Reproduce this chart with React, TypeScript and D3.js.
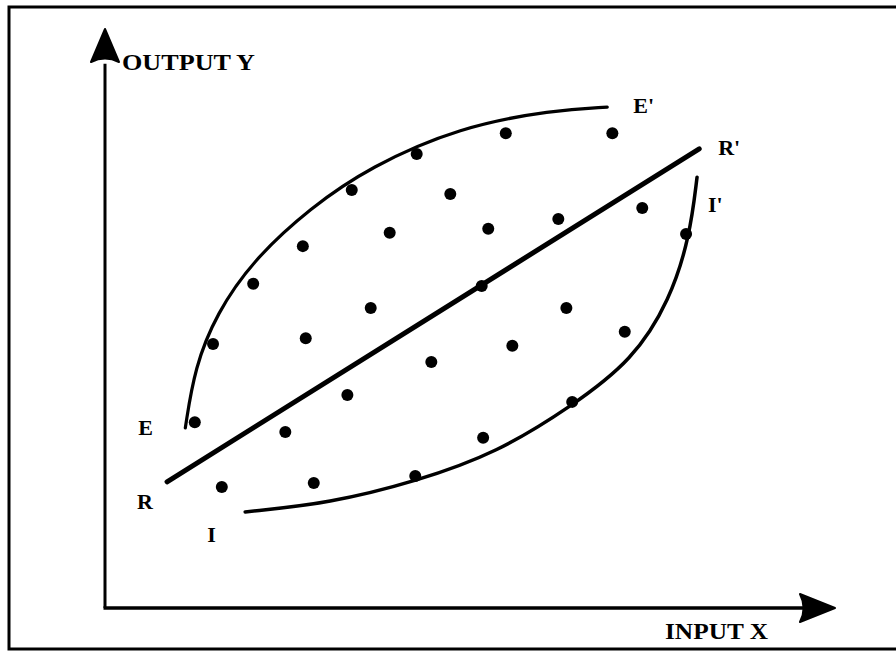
import React, { useEffect, useRef } from 'react';
import * as d3 from 'd3';

const WIDTH = 896;
const HEIGHT = 651;

// abstract units: input X 0..100, output Y 0..100 (100 = arrow tips)
const dotX = [12.3, 14.8, 20.3, 27.1, 33.8, 42.7, 54.9, 69.5, 47.3, 39.0, 52.5, 62.1, 73.6, 79.6,
    51.6, 36.4, 27.5, 63.2, 71.2, 55.8, 44.7, 33.2, 24.7, 16.0, 28.6, 42.5, 51.8, 64.0];
const dotY = [32.1, 45.6, 56.0, 62.5, 72.2, 78.4, 82.0, 82.0, 71.5, 64.8, 65.5, 67.2, 69.1, 64.6,
    55.6, 51.8, 46.6, 51.8, 47.7, 45.3, 42.5, 36.8, 30.4, 20.9, 21.6, 22.8, 29.4, 35.6];

// efficient boundary E -> E'
const efficientX = [11.0, 12.3, 15.3, 20.3, 28.1, 36.3, 48.6, 61.4, 68.8];
const efficientY = [31.1, 41.6, 50.9, 60.1, 69.1, 76.2, 83.1, 86.0, 86.5];

// regression line R -> R'
const regressionX = [8.5, 81.4];
const regressionY = [21.8, 79.3];

// inefficient boundary I -> I'
const inefficientX = [19.2, 30.8, 42.7, 53.7, 64.0, 72.3, 77.4, 80.1, 81.1];
const inefficientY = [16.6, 18.1, 21.9, 26.8, 34.9, 42.8, 53.2, 64.1, 74.4];

const FONT = '"Liberation Serif", "DejaVu Serif", serif';

const App = () => {
    const svgRef = useRef<SVGSVGElement>(null);

    useEffect(() => {
        document.body.style.margin = '0';
        const svg = d3.select(svgRef.current);
        svg.selectAll('*').remove();

        const x = d3.scaleLinear().domain([0, 100]).range([105, 835]);
        const y = d3.scaleLinear().domain([0, 100]).range([608, 29]);

        // frame (right side runs off the page)
        svg.append('rect')
            .attr('x', 9).attr('y', 7)
            .attr('width', 1000).attr('height', 642)
            .attr('fill', 'white')
            .attr('stroke', '#000').attr('stroke-width', 3);

        // axes
        const g = svg.append('g');
        g.append('line')
            .attr('x1', x(0)).attr('y1', y(0))
            .attr('x2', x(0)).attr('y2', y(94))
            .attr('stroke', '#000').attr('stroke-width', 3);
        g.append('line')
            .attr('x1', x(0) - 1.5).attr('y1', y(0))
            .attr('x2', x(96)).attr('y2', y(0))
            .attr('stroke', '#000').attr('stroke-width', 3.5);

        g.append('path')
            .attr('d', `M${x(0)},${y(100)} L${x(0) + 14},${y(94.3)} Q${x(0)},${y(95.5)} ${x(0) - 14},${y(94.3)} Z`)
            .attr('fill', '#000').attr('stroke', '#000').attr('stroke-width', 2).attr('stroke-linejoin', 'round');
        g.append('path')
            .attr('d', `M${x(100)},${y(0)} L${x(95.2)},${y(0) - 14} Q${x(96.2)},${y(0)} ${x(95.2)},${y(0) + 14} Z`)
            .attr('fill', '#000').attr('stroke', '#000').attr('stroke-width', 2).attr('stroke-linejoin', 'round');

        g.append('text')
            .attr('x', x(0) + 17).attr('y', y(93))
            .attr('font-family', FONT).attr('font-weight', 'bold').attr('font-size', 24)
            .attr('textLength', 133).attr('lengthAdjust', 'spacingAndGlyphs')
            .text('OUTPUT Y');
        g.append('text')
            .attr('x', 665).attr('y', y(0) + 31)
            .attr('font-family', FONT).attr('font-weight', 'bold').attr('font-size', 24)
            .attr('textLength', 103).attr('lengthAdjust', 'spacingAndGlyphs')
            .text('INPUT X');

        const toPoints = (xs: number[], ys: number[]) => xs.map((v, i) => [v, ys[i]] as [number, number]);
        const curve = d3.line<[number, number]>()
            .x(d => x(d[0]))
            .y(d => y(d[1]))
            .curve(d3.curveBasis);

        const efficient = toPoints(efficientX, efficientY);
        const regression = toPoints(regressionX, regressionY);
        const inefficient = toPoints(inefficientX, inefficientY);

        svg.append('path').datum(efficient)
            .attr('d', curve).attr('fill', 'none')
            .attr('stroke', '#000').attr('stroke-width', 3.2).attr('stroke-linecap', 'round');
        svg.append('path').datum(regression)
            .attr('d', curve).attr('fill', 'none')
            .attr('stroke', '#000').attr('stroke-width', 5).attr('stroke-linecap', 'round');
        svg.append('path').datum(inefficient)
            .attr('d', curve).attr('fill', 'none')
            .attr('stroke', '#000').attr('stroke-width', 3.5).attr('stroke-linecap', 'round');

        svg.append('g')
            .selectAll('circle')
            .data(toPoints(dotX, dotY))
            .join('circle')
            .attr('cx', d => x(d[0]))
            .attr('cy', d => y(d[1]))
            .attr('r', 6)
            .attr('fill', '#000');

        // end labels, offset from each curve's ends
        const labels: [string, [number, number], number, number][] = [
            ['E', efficient[0], -47, 7],
            ["E'", efficient[efficient.length - 1], 26, 6],
            ['R', regression[0], -30, 27],
            ["R'", regression[1], 19, 6],
            ['I', inefficient[0], -38, 30],
            ["I'", inefficient[inefficient.length - 1], 11, 35],
        ];
        svg.append('g')
            .selectAll('text')
            .data(labels)
            .join('text')
            .attr('x', d => x(d[1][0]) + d[2])
            .attr('y', d => y(d[1][1]) + d[3])
            .attr('font-family', FONT).attr('font-weight', 'bold').attr('font-size', 22)
            .text(d => d[0]);
    }, []);

    return (
        <svg ref={svgRef} width={WIDTH} height={HEIGHT} style={{ display: 'block' }} />
    );
};

export default App;
